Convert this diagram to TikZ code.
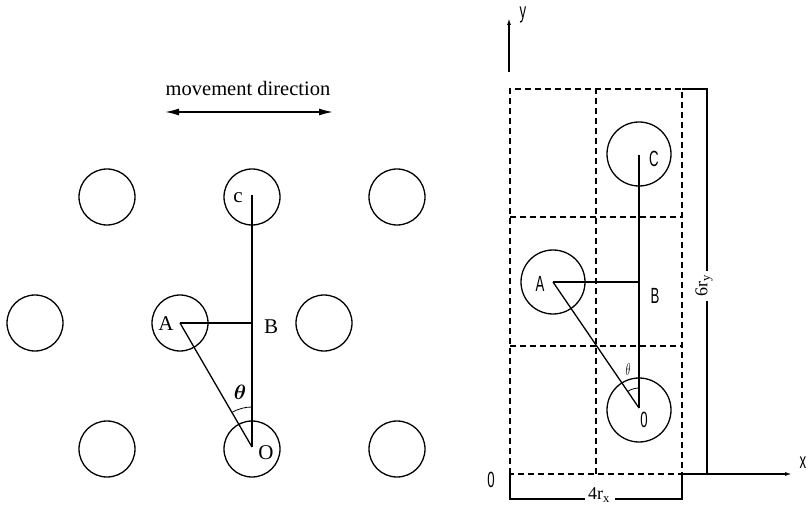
\documentclass[tikz,border=0pt]{standalone}
\usepackage{fontspec}
\usepackage{amsmath}
\usepackage{bm}
\setmainfont{Liberation Serif}
\newfontfamily\cadfont{Liberation Sans}
\usetikzlibrary{arrows.meta}
\tikzset{
  ring/.style={draw,circle,line width=1.3pt,minimum size=56pt,inner sep=0pt},
  ringR/.style={draw,circle,line width=1.3pt,minimum size=64pt,inner sep=0pt},
  ln/.style={line width=1.3pt},
  grid/.style={line width=1.1pt,dash pattern=on 6pt off 4pt},
  lbl/.style={inner sep=0pt,font=\fontsize{21}{21}\selectfont},
  cad/.style={inner sep=0pt,font=\cadfont\fontsize{22}{22}\selectfont},
  dim/.style={inner sep=0pt,font=\fontsize{18}{18}\selectfont},
}
\newcommand{\narrow}[1]{\scalebox{0.6}[1]{#1}}
\begin{document}
\begin{tikzpicture}[x=1pt,y=1pt]
\useasboundingbox (0,0) rectangle (811,509);
% ---------------- left diagram ----------------
\node[lbl,font=\fontsize{20.5}{20.5}\selectfont] (mvt) at (248,421) {movement direction};
\coordinate (mvL) at (165,397);
\coordinate (mvR) at (333,397);
\draw[line width=1.5pt,{Latex[length=14pt,width=7pt]}-{Latex[length=14pt,width=7pt]}] (mvL) -- (mvR);

\node[ring] (L1) at (107,312) {};
\node[ring] (L2) at (252,312) {};
\node[ring] (L3) at (397,312) {};
\node[ring] (L4) at (35,186) {};
\node[ring] (L5) at (180,186) {};
\node[ring] (L6) at (324,186) {};
\node[ring] (L7) at (107,60) {};
\node[ring] (L8) at (252,60) {};
\node[ring] (L9) at (397,60) {};

\coordinate (lC) at (252,314);
\coordinate (lA) at (180,186);
\coordinate (lB) at (252,186);
\coordinate (lO) at (252,62);
\draw[ln] (lC) -- (lO);
\draw[ln] (lA) -- (lB);
\draw[ln] (lA) -- (lO);
\draw[line width=0.8pt] ([shift={(90:40)}]lO) arc[start angle=90,end angle=119.7,radius=40];

\node[lbl] (tc) at (238,311) {c};
\node[lbl] (tA) at (166,185) {A};
\node[lbl] (tB) at (271,182) {B};
\node[lbl] (tO) at (266,56) {O};
\node[lbl] (tth) at (240,117) {$\bm{\theta}$};

% ---------------- right diagram ----------------
\coordinate (g00) at (510,35);
\coordinate (g10) at (596,35);
\coordinate (g20) at (682,35);
\coordinate (g03) at (510,420);
\coordinate (g13) at (596,420);
\coordinate (g23) at (682,420);
\draw[grid] (g00) rectangle (g23);
\draw[grid] (g10) -- (g13);
\draw[grid] (510,292) -- (682,292);
\draw[grid] (510,163) -- (682,163);

% axes
\coordinate (yb) at (509,437);
\coordinate (yt) at (509,491);
\draw[line width=1.4pt,-{Latex[length=7pt,width=4pt]}] (yb) -- (yt);
\node[cad] (ylab) at (523,494) {\narrow{y}};
\coordinate (xe) at (792,35);
\draw[line width=1.4pt,-{Latex[length=7pt,width=4pt]}] (g20) -- (xe);
\node[cad] (xlab) at (803,46) {\narrow{x}};
\node[cad] (zero) at (491,29) {\narrow{0}};

% dimension 4r_x
\coordinate (d1) at (510,10);
\coordinate (d2) at (682,10);
\draw[line width=1.1pt] (g00) -- (d1) -- (585,10);
\draw[line width=1.1pt] (615,10) -- (d2) -- (g20);
\node[dim] (rx) at (599,14) {4r\textsubscript{x}};

% dimension 6r_y
\coordinate (v1) at (707,420);
\coordinate (v2) at (707,35);
\draw[line width=1.1pt] (g23) -- (v1) -- (707,238);
\draw[line width=1.1pt] (707,208) -- (v2);
\node[dim,rotate=90] (ry) at (704,223) {6r\textsubscript{y}};

% circles and lines
\node[ringR] (RC) at (639,355) {};
\node[ringR] (RA) at (553,227) {};
\node[ringR] (RO) at (639,99) {};
\coordinate (rC) at (639,354);
\coordinate (rA) at (553,227);
\coordinate (rB) at (639,227);
\coordinate (rO) at (639,101);
\draw[ln] (rC) -- (rO);
\draw[ln] (rA) -- (rB);
\draw[ln] (rA) -- (rO);
\draw[line width=0.8pt] ([shift={(90:20)}]rO) arc[start angle=90,end angle=123.9,radius=20];

\node[cad] (rtC) at (654,350) {\narrow{C}};
\node[cad] (rtA) at (540,225) {\narrow{A}};
\node[cad] (rtB) at (655,213) {\narrow{B}};
\node[cad] (rtO) at (644,89) {\narrow{0}};
\node[inner sep=0pt,font=\fontsize{16}{16}\selectfont] (rth) at (628,139) {\narrow{$\theta$}};
\end{tikzpicture}
\end{document}
